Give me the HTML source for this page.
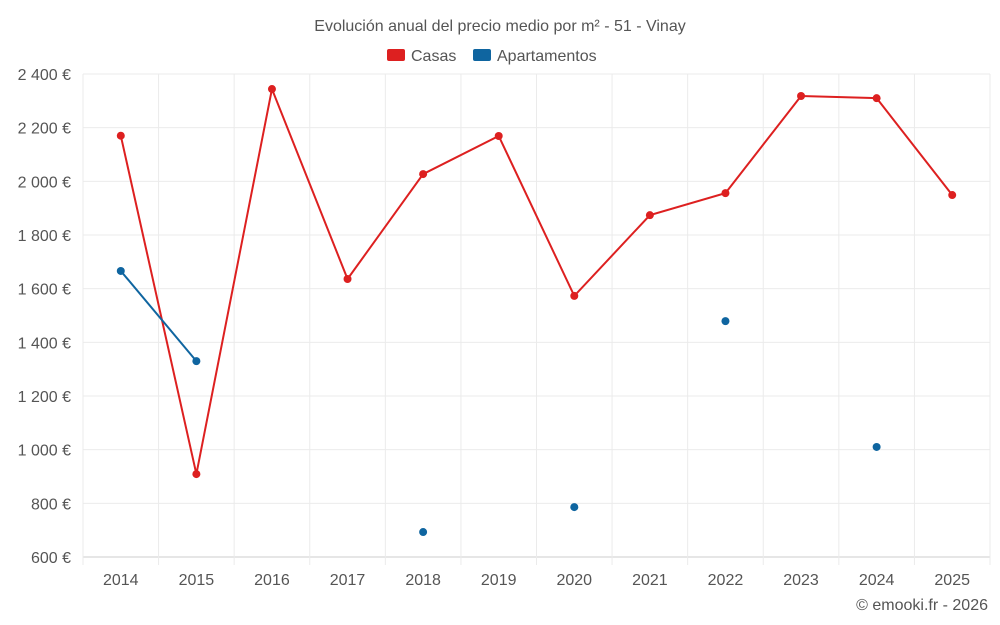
<!DOCTYPE html>
<html><head><meta charset="utf-8"><style>
body{margin:0;background:#fff;font-family:"Liberation Sans",sans-serif}
svg{display:block}
</style></head><body>
<svg id="chart" width="1000" height="625" xmlns="http://www.w3.org/2000/svg">
<text x="500" y="31" text-anchor="middle" font-size="16" fill="#555">Evolución anual del precio medio por m² - 51 - Vinay</text>
<g>
<g><rect x="387" y="49" width="18" height="12" rx="2" fill="#dd2020"/><text x="411" y="61" font-size="16" fill="#555">Casas</text></g>
<g><rect x="473" y="49" width="18" height="12" rx="2" fill="#0f65a0"/><text x="497" y="61" font-size="16" fill="#555">Apartamentos</text></g>
</g>
<g id="grid"></g>
<g id="axes"></g>
<g id="series"></g>
<text x="988" y="610" text-anchor="end" font-size="16" fill="#555">© emooki.fr - 2026</text>
</svg>
<script>
const years=[2014,2015,2016,2017,2018,2019,2020,2021,2022,2023,2024,2025];
const casas=[2170,909,2344,1636,2027,2169,1573,1874,1956,2318,2310,1949];
const apartamentos=[1666,1330,null,null,693,null,786,null,1479,null,1010,null];
const yTicks=[600,800,1000,1200,1400,1600,1800,2000,2200,2400];
const yLabels=["600 €","800 €","1 000 €","1 200 €","1 400 €","1 600 €","1 800 €","2 000 €","2 200 €","2 400 €"];
const L=83,R=990,T=74,B=557,ymin=600,ymax=2400;
const step=(R-L)/years.length;
function xs(i){return L+step*(i+0.5);}
function ys(v){return B-(v-ymin)/(ymax-ymin)*(B-T);}
const NS="http://www.w3.org/2000/svg";
function mk(tag,attrs,parent,txt){const e=document.createElementNS(NS,tag);for(const k in attrs)e.setAttribute(k,attrs[k]);if(txt!==undefined)e.textContent=txt;parent.appendChild(e);return e;}
const grid=document.getElementById('grid'),axes=document.getElementById('axes'),series=document.getElementById('series');
yTicks.forEach((t,i)=>{
 const l=mk('line',{x1:L,x2:R,y1:ys(t),y2:ys(t),stroke:i===0?'#ccc':'#ebebeb','stroke-width':1},grid);
 
 
 const tx=mk('text',{x:71,y:ys(t)+6,'text-anchor':'end','font-size':16,fill:'#555'},axes,yLabels[i]);
 
 
});
for(let i=0;i<=years.length;i++){
 const x=L+step*i;
 const l=mk('line',{x1:x,x2:x,y1:T,y2:B+8,stroke:'#ebebeb','stroke-width':1},grid);
 
 
}
years.forEach((y,i)=>{
 const tx=mk('text',{x:xs(i),y:585,'text-anchor':'middle','font-size':16,fill:'#555'},axes,y);
 
 
});
function draw(data,color,name){
 let seg=[];
 const segs=[];
 data.forEach((v,i)=>{if(v==null){if(seg.length)segs.push(seg);seg=[];}else seg.push([xs(i),ys(v)]);});
 if(seg.length)segs.push(seg);
 segs.forEach(s=>{if(s.length>1){
  const p=mk('polyline',{points:s.map(q=>q.join(',')).join(' '),fill:'none',stroke:color,'stroke-width':2},series);
  
  
 }});
 data.forEach((v,i)=>{if(v==null)return;
  const c=mk('circle',{cx:xs(i),cy:ys(v),r:4,fill:color},series);
  
  
 });
}
draw(casas,'#dd2020','casas');
draw(apartamentos,'#0f65a0','apartamentos');
</script>
</body></html>
